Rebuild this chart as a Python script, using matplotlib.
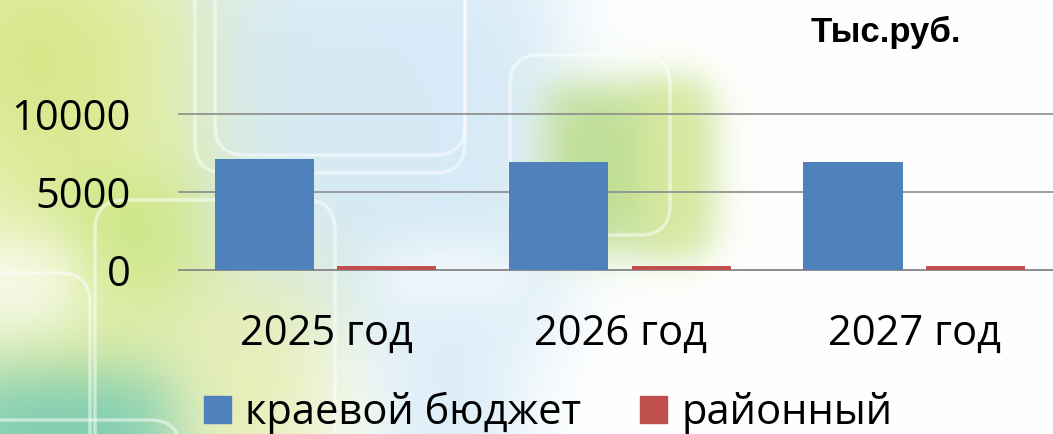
import numpy as np
import matplotlib.pyplot as plt
from matplotlib.patches import FancyBboxPatch, Patch

# data
categories = ['2025 год', '2026 год', '2027 год']
kraevoy = [7100, 6900, 6900]
rayonny = [250, 250, 250]
series_names = ['краевой бюджет', 'районный']
yticks = [0, 5000, 10000]

W, H = 1053, 434


def soft_box(x0, x1, y0, y1, soft):
    xs = np.arange(W)[None, :]
    ys = np.arange(H)[:, None]
    fx = 1 / (1 + np.exp(-(xs - x0) / soft)) * 1 / (1 + np.exp((xs - x1) / soft))
    fy = 1 / (1 + np.exp(-(ys - y0) / soft)) * 1 / (1 + np.exp((ys - y1) / soft))
    return fx * fy


def paint(img, mask, color, alpha=1.0):
    c = np.array(color) / 255.0
    m = (mask * alpha)[..., None]
    return img * (1 - m) + c * m


def make_background():
    img = np.ones((H, W, 3))
    img = paint(img, soft_box(150, 560, -50, 330, 25), (214, 234, 247))
    img = paint(img, soft_box(-50, 200, -50, 500, 30), (224, 236, 160))
    img = paint(img, soft_box(170, 330, 260, 500, 30), (228, 236, 170), 0.9)
    img = paint(img, soft_box(-50, 90, -50, 140, 40), (200, 225, 100), 0.7)
    img = paint(img, soft_box(60, 200, 180, 290, 20), (190, 225, 110), 0.6)
    img = paint(img, soft_box(-50, 80, 240, 330, 20), (255, 255, 255), 0.9)
    img = paint(img, soft_box(-50, 170, 375, 500, 20), (110, 200, 180), 0.9)
    img = paint(img, soft_box(380, 520, 290, 500, 25), (214, 234, 247), 0.9)
    img = paint(img, soft_box(380, 520, 250, 300, 15), (255, 255, 255), 0.8)
    img = paint(img, soft_box(545, 705, 85, 250, 12), (190, 222, 150))
    img = paint(img, soft_box(640, 705, 85, 250, 12), (225, 235, 160), 0.8)
    return np.clip(img, 0, 1)


fig = plt.figure(figsize=(10.53, 4.34), dpi=100)

bg = fig.add_axes([0, 0, 1, 1])
bg.imshow(make_background(), extent=(0, W, H, 0), aspect='auto', zorder=0)
# decorative rounded frames
for (x, y, w, h) in [(195, -60, 270, 233), (215, -60, 250, 215), (95, 200, 240, 300),
                     (-100, 273, 190, 200), (510, 55, 160, 180), (-60, 420, 240, 80)]:
    bg.add_patch(FancyBboxPatch((x, y), w, h, boxstyle='round,pad=0,rounding_size=30',
                                fill=False, ec='white', lw=2.5, alpha=0.5, zorder=1))
bg.set_xlim(0, W)
bg.set_ylim(H, 0)
bg.axis('off')

left = 179 / W
bottom = (H - 270) / H
ax = fig.add_axes([left, bottom, 883 / W, 156 / H])
ax.patch.set_alpha(0)

x = np.arange(len(categories))
bw = 0.337
ax.bar(x - 0.21, kraevoy, bw, color='#4f81bd', zorder=3)
ax.bar(x + 0.206, rayonny, bw, color='#c0504d', zorder=3)

ax.set_xlim(-0.5, 2.5)
ax.set_ylim(0, 10000)
ax.set_yticks(yticks)
ax.set_xticks(x)
ax.set_xticklabels(categories)
ax.grid(axis='y', color='#8c8c8c', lw=1.2, zorder=1, clip_on=False)
ax.set_axisbelow(True)
for s in ['top', 'right', 'left']:
    ax.spines[s].set_visible(False)
ax.spines['bottom'].set_color('#8c8c8c')
ax.spines['bottom'].set_linewidth(1.2)
ax.tick_params(axis='both', length=0, labelsize=30)
ax.tick_params(axis='y', pad=35)
ax.tick_params(axis='x', pad=31)
for lbl in ax.get_xticklabels() + ax.get_yticklabels():
    lbl.set_family('Open Sans')

handles = [Patch(color='#4f81bd'), Patch(color='#c0504d')]
fig.legend(handles, series_names, loc='center', bbox_to_anchor=(548 / W, 1 - 413 / H),
           ncol=2, frameon=False, prop={'family': 'Open Sans', 'size': 30},
           handlelength=0.65, handleheight=0.65, handletextpad=0.35,
           columnspacing=1.4, borderaxespad=0, borderpad=0)

fig.text(886 / W, 1 - 32 / H, 'Тыс.руб.', ha='center', va='center',
         fontsize=25, fontweight='bold', family='Liberation Sans')

fig.savefig('out.png', dpi=100)
